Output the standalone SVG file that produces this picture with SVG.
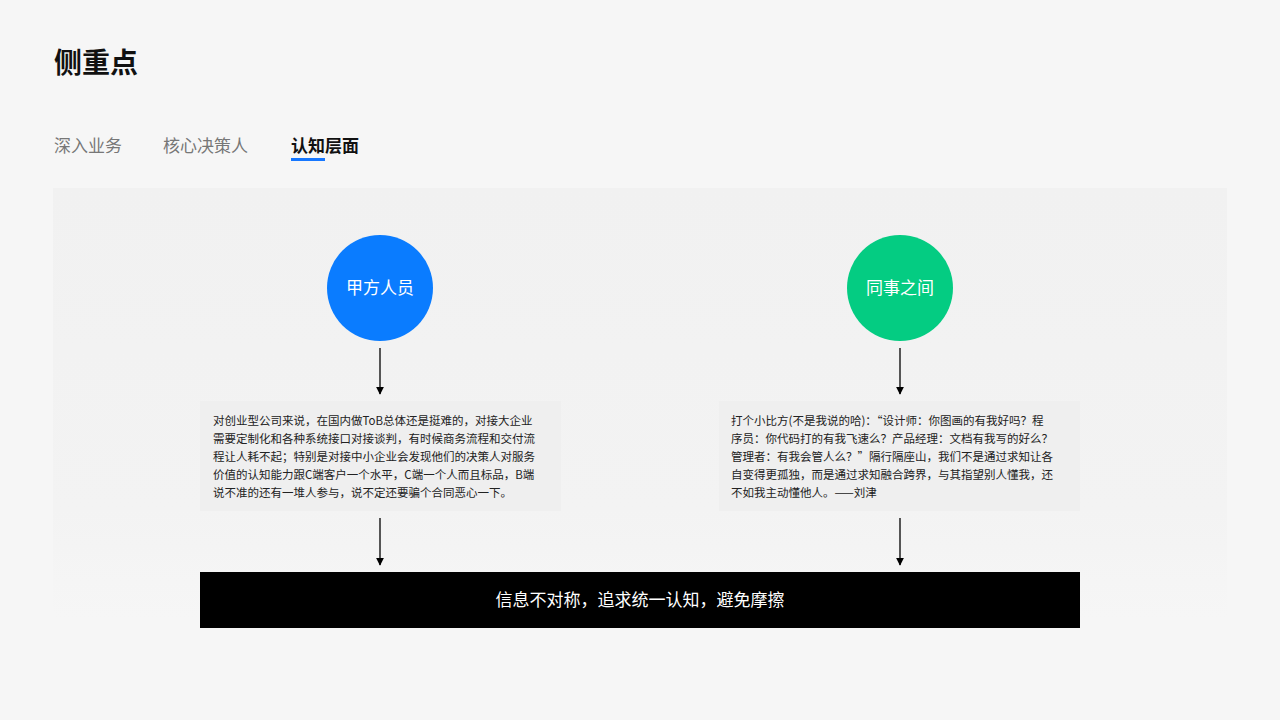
<svg xmlns="http://www.w3.org/2000/svg" width="1280" height="720" viewBox="0 0 1280 720">
<defs>
<linearGradient id="pg" x1="0" y1="0" x2="0" y2="1"><stop offset="0" stop-color="#f1f1f1"/><stop offset="0.75" stop-color="#f3f3f3"/><stop offset="1" stop-color="#f6f6f6"/></linearGradient>
<marker id="ah" viewBox="0 0 10 10" refX="9" refY="5" markerWidth="8" markerHeight="8" markerUnits="userSpaceOnUse" orient="auto"><path d="M0,0L10,5L0,10z" fill="#000"/></marker>
</defs>
<style>
text{font-family:"Noto Sans CJK SC","Liberation Sans",sans-serif}
.tab{font-size:17px;fill:#777}
.body{font-size:11.5px;fill:#222}
.c{font-size:17px;fill:#fff;text-anchor:middle}
.ln{stroke:#000;stroke-width:1.3;fill:none;marker-end:url(#ah)}
.box{fill:#efefef}
</style>
<rect width="1280" height="720" fill="#f6f6f6"/>
<text x="54" y="73" font-size="28" font-weight="bold" fill="#111">侧重点</text>
<text class="tab" x="54" y="152">深入业务</text>
<text class="tab" x="163" y="152">核心决策人</text>
<text x="291" y="152" font-size="17" font-weight="bold" fill="#111">认知层面</text>
<rect x="291" y="158" width="34" height="3" fill="#1677ff"/>
<rect x="53" y="188" width="1174" height="430" fill="url(#pg)"/>
<g id="connectors">
<line class="ln" x1="380" y1="348" x2="380" y2="394"/>
<line class="ln" x1="900" y1="348" x2="900" y2="394"/>
<line class="ln" x1="380" y1="518" x2="380" y2="565"/>
<line class="ln" x1="900" y1="518" x2="900" y2="565"/>
</g>
<g id="node-a"><circle cx="380" cy="288" r="53" fill="#0a7cff"/><text class="c" x="380" y="294">甲方人员</text></g>
<g id="node-b"><circle cx="900" cy="288" r="53" fill="#04cc82"/><text class="c" x="900" y="294">同事之间</text></g>
<g id="text-a"><rect class="box" x="200" y="401" width="361" height="110"/>
<text class="body" x="213" y="425">对创业型公司来说，在国内做ToB总体还是挺难的，对接大企业</text>
<text class="body" x="213" y="443">需要定制化和各种系统接口对接谈判，有时候商务流程和交付流</text>
<text class="body" x="213" y="461">程让人耗不起；特别是对接中小企业会发现他们的决策人对服务</text>
<text class="body" x="213" y="479">价值的认知能力跟C端客户一个水平，C端一个人而且标品，B端</text>
<text class="body" x="213" y="497">说不准的还有一堆人参与，说不定还要骗个合同恶心一下。</text>
</g>
<g id="text-b"><rect class="box" x="719" y="401" width="361" height="110"/>
<text class="body" x="731" y="425">打个小比方(不是我说的哈)：“设计师：你图画的有我好吗？程</text>
<text class="body" x="731" y="443">序员：你代码打的有我飞速么？产品经理：文档有我写的好么？</text>
<text class="body" x="731" y="461">管理者：有我会管人么？”隔行隔座山，我们不是通过求知让各</text>
<text class="body" x="731" y="479">自变得更孤独，而是通过求知融合跨界，与其指望别人懂我，还</text>
<text class="body" x="731" y="497">不如我主动懂他人。——刘津</text>
</g>
<g id="result"><rect x="200" y="572" width="880" height="56" fill="#000"/>
<text x="640" y="606" font-size="17" fill="#fff" text-anchor="middle">信息不对称，追求统一认知，避免摩擦</text></g>
</svg>
